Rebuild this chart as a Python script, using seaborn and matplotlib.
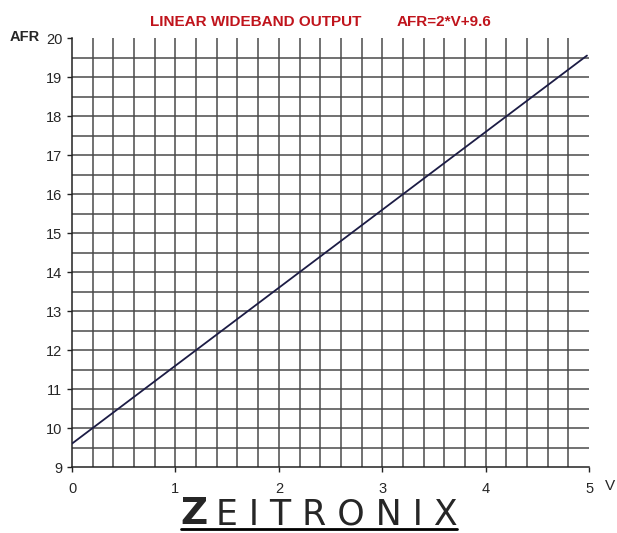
"""Linear wideband output chart (AFR vs volts)."""
import matplotlib
matplotlib.use("Agg")
import matplotlib.pyplot as plt
import numpy as np
import pandas as pd
import seaborn as sns
from matplotlib.lines import Line2D

# data
volts = [0.0, 4.98]
afr = [9.6, 19.55]
x_ticks = [0, 1, 2, 3, 4, 5]
y_ticks = [9, 10, 11, 12, 13, 14, 15, 16, 17, 18, 19, 20]
x_grid = [0.2, 0.4, 0.6, 0.8, 1.0, 1.2, 1.4, 1.6, 1.8, 2.0, 2.2, 2.4,
          2.6, 2.8, 3.0, 3.2, 3.4, 3.6, 3.8, 4.0, 4.2, 4.4, 4.6, 4.8]
y_grid = [9.5, 10, 10.5, 11, 11.5, 12, 12.5, 13, 13.5, 14, 14.5, 15,
          15.5, 16, 16.5, 17, 17.5, 18, 18.5, 19, 19.5]

sns.set_style("white")
plt.rcParams["font.family"] = ["Liberation Sans", "DejaVu Sans"]

fig = plt.figure(figsize=(6.17, 5.33), dpi=100)
ax = fig.add_axes([0.1167, 0.1238, 0.838, 0.8049])

grid_col = "#4a4a4a"
ax.vlines(x_grid, 9, 20, color=grid_col, lw=1.1, zorder=1)
ax.hlines(y_grid, 0, 5, color=grid_col, lw=1.1, zorder=1)

df = pd.DataFrame({"V": volts, "AFR": afr})
sns.lineplot(data=df, x="V", y="AFR", color="#1c1c45", lw=1.3, ax=ax, zorder=3)

ax.set_xlim(0, 5)
ax.set_ylim(9, 20)
ax.set_xticks(x_ticks)
ax.set_yticks(y_ticks)
ax.tick_params(axis="both", direction="out", length=3.5, width=1, color="#222222",
               labelsize=10.5, left=True, bottom=True)
ax.tick_params(axis="y", pad=3.5)
ax.tick_params(axis="x", pad=7)
ax.set_xlabel("")
ax.set_ylabel("")
for s in ["top", "right"]:
    ax.spines[s].set_visible(False)
for s in ["left", "bottom"]:
    ax.spines[s].set_color("#222222")
    ax.spines[s].set_linewidth(1.1)

fig.text(0.016, 0.931, "AFR", fontsize=10.5, fontweight="bold", va="center", ha="left")
fig.text(0.989, 0.088, "V", fontsize=11, va="center", ha="center")

fig.text(0.415, 0.959, "LINEAR WIDEBAND OUTPUT", color="#c0141c", fontsize=11,
         fontweight="bold", ha="center", va="center")
fig.text(0.719, 0.959, "AFR=2*V+9.6", color="#c0141c", fontsize=11,
         fontweight="bold", ha="center", va="center")

# logo
fig.text(0.293, 0.016, "Z", fontsize=27, fontweight="bold", family="DejaVu Sans",
         ha="left", va="baseline")
fig.text(0.350, 0.016, "E I T R O N I X", fontsize=25, family="DejaVu Sans",
         ha="left", va="baseline")
fig.add_artist(Line2D([0.293, 0.740], [0.008, 0.008], color="black", lw=2,
                      transform=fig.transFigure))

fig.savefig("out.png", dpi=100)
